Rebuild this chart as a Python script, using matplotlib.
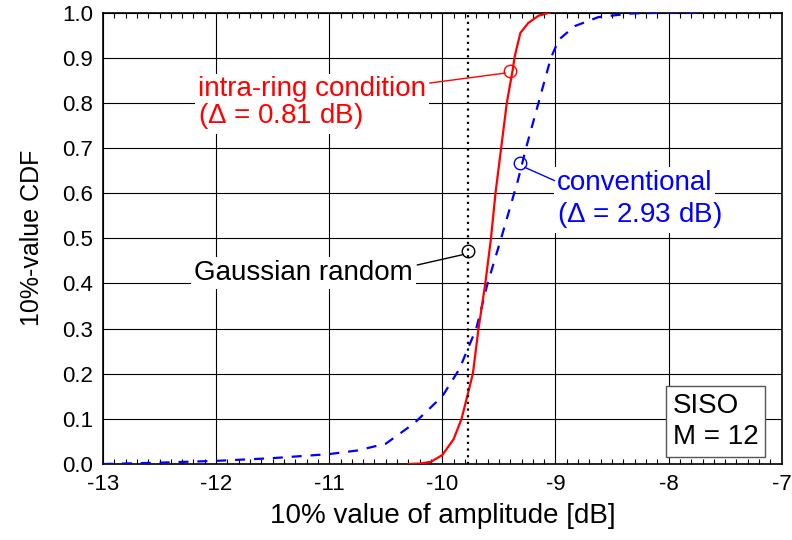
import matplotlib
matplotlib.use('Agg')
import numpy as np
import matplotlib.pyplot as plt
from matplotlib.ticker import MultipleLocator

plt.rcParams['font.family'] = ['Liberation Sans', 'DejaVu Sans']
plt.rcParams['mathtext.fontset'] = 'custom'
plt.rcParams['mathtext.it'] = 'Liberation Sans:italic'
plt.rcParams['mathtext.rm'] = 'Liberation Sans'
plt.rcParams['axes.unicode_minus'] = False

# conventional (blue dashed)
conv_x = [-13, -12.5, -12, -11.5, -11, -10.75, -10.5, -10.25, -10, -9.85, -9.7,
          -9.6, -9.48, -9.33, -9.26, -9.15, -9.04, -8.97, -8.83, -8.62, -8.33, -8.0, -7.7]
conv_y = [0.0, 0.003, 0.007, 0.013, 0.022, 0.03, 0.045, 0.09, 0.15, 0.21, 0.30,
          0.40, 0.50, 0.63, 0.70, 0.80, 0.90, 0.94, 0.97, 0.99, 0.998, 1.0, 1.0]

# intra-ring condition (red solid)
ring_x = [-10.3, -10.2, -10.1, -10.0, -9.9, -9.83, -9.73, -9.68, -9.62, -9.57,
          -9.53, -9.48, -9.43, -9.38, -9.36, -9.31, -9.24, -9.15, -9.05]
ring_y = [0.0, 0.001, 0.005, 0.02, 0.055, 0.1, 0.2, 0.3, 0.4, 0.5,
          0.6, 0.7, 0.8, 0.87, 0.903, 0.955, 0.977, 0.993, 1.0]

gauss_x = -9.77

xticks = np.arange(-13, -6, 1)
yticks = np.round(np.arange(0, 1.01, 0.1), 1)

fig = plt.figure(figsize=(7.92, 5.4), dpi=100)
ax = fig.add_axes([0.130, 0.1407, 0.857, 0.836])

ax.plot(conv_x, conv_y, color='blue', lw=1.6, dashes=(4.5, 4), zorder=3)
ax.plot(ring_x, ring_y, color='red', lw=1.6, zorder=3)
ax.plot([gauss_x, gauss_x], [0, 1], color='black', lw=1.6, dashes=(1, 2), zorder=3)

ax.set_xticks(xticks)
ax.set_xticklabels([str(v) for v in xticks])
ax.set_yticks(yticks)
ax.set_yticklabels([f'{v:.1f}' for v in yticks])
ax.xaxis.set_minor_locator(MultipleLocator(0.1))
ax.set_xlim(-13, -7)
ax.set_ylim(0, 1)
ax.grid(True, which='major', color='black', lw=0.8, zorder=0)
ax.tick_params(which='major', direction='in', length=0, labelsize=16)
ax.tick_params(axis='x', which='major', pad=7)
ax.tick_params(axis='y', which='major', pad=7)
ax.tick_params(axis='x', which='minor', direction='in', length=3.5, top=True, width=0.8)
for s in ax.spines.values():
    s.set_linewidth(1.2)

ax.set_xlabel('10% value of amplitude [dB]', fontsize=20, labelpad=6)
ax.set_ylabel('10%-value CDF', fontsize=18, labelpad=13)

box = dict(facecolor='white', edgecolor='none', pad=2)
circ = dict(marker='o', ms=9, mfc='none', mew=1, zorder=4)
link = dict(lw=1, zorder=4)


def label(x, y, s, color, ha='left'):
    # white patch behind the line, then the text on top of all patches
    ax.text(x, y, s, color='none', fontsize=20, ha=ha, va='center', bbox=box, zorder=2)
    ax.text(x, y, s, color=color, fontsize=20, ha=ha, va='center', zorder=2.5)


# intra-ring annotation
ax.plot(-9.40, 0.871, color='red', **circ)
ax.plot([-10.11, -9.445], [0.844, 0.866], color='red', **link)
label(-12.16, 0.830, 'intra-ring condition', 'red')
label(-12.16, 0.770, '($\\mathit{\\Delta}$ = 0.81 dB)', 'red')

# conventional annotation
ax.plot(-9.316, 0.667, color='blue', **circ)
ax.plot([-9.27, -9.01], [0.657, 0.628], color='blue', **link)
label(-8.99, 0.623, 'conventional', 'blue')
label(-8.99, 0.552, '($\\mathit{\\Delta}$ = 2.93 dB)', 'blue')

# gaussian annotation
ax.plot(gauss_x, 0.472, color='black', **circ)
ax.plot([-10.22, -9.815], [0.441, 0.464], color='black', **link)
label(-10.26, 0.423, 'Gaussian random', 'black', ha='right')

ax.text(-7.965, 0.094, 'SISO\nM = 12', fontsize=20, ha='left', va='center',
        linespacing=1.25, zorder=5,
        bbox=dict(facecolor='white', edgecolor='#555555', lw=1, pad=5))

fig.savefig('out.png', dpi=100)
